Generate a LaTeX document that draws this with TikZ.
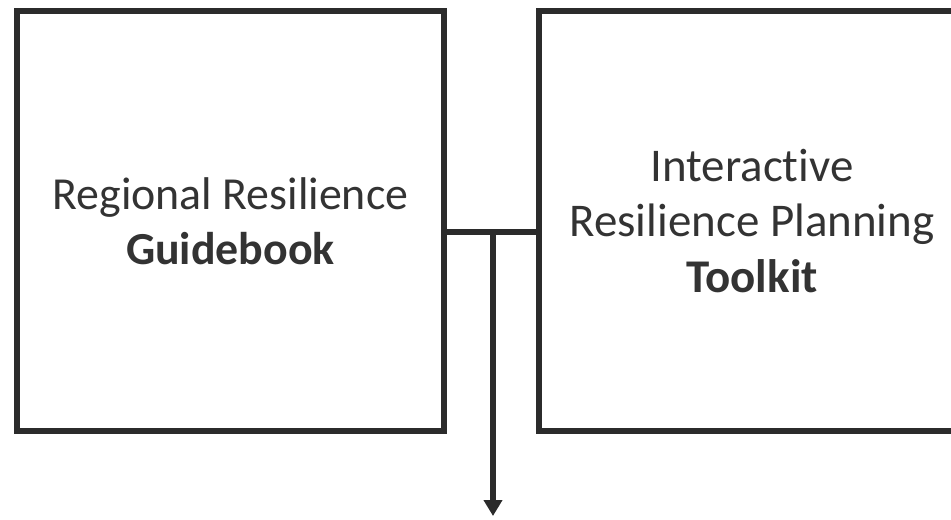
\documentclass[tikz,border=0pt]{standalone}
\usepackage{fontspec}
\setmainfont{Carlito}[Ligatures=NoCommon]
\usetikzlibrary{arrows.meta}
\definecolor{linecol}{HTML}{2B2B2B}
\definecolor{txtcol}{HTML}{333333}
\tikzset{
  panel/.style={draw=linecol, line width=4.5pt, rectangle, outer sep=0pt,
    minimum height=315pt, align=center, text=txtcol,
    font=\fontsize{34.4pt}{41.5pt}\selectfont},
  link/.style={draw=linecol, line width=4.5pt},
  flow/.style={link, -{Triangle[length=12pt,width=13.5pt]}}
}
\begin{document}
\begin{tikzpicture}[x=0.75pt,y=-0.75pt]
\useasboundingbox (0,0) rectangle (951,519);
\clip (0,0) rectangle (951,519);
\node[panel, minimum width=320.25pt] (L) at (230.5,221) {Regional Resilience\\\textbf{Guidebook}};
\node[panel, minimum width=319.5pt, font=\fontsize{35.2pt}{41.5pt}\selectfont] (R) at (752,221) {Interactive\\Resilience Planning\\\textbf{Toolkit}};
\coordinate (j) at (493,232);
\coordinate (out) at (493,516);
\draw[link] (L.east |- j) -- (R.west |- j);
\draw[flow] (j) -- (out);
\end{tikzpicture}
\end{document}
